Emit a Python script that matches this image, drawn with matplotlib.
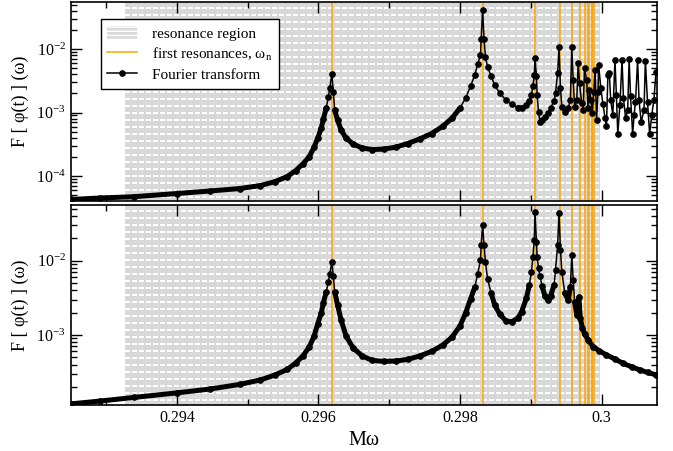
import matplotlib
matplotlib.use('Agg')
import matplotlib.pyplot as plt
import matplotlib.patches as mpatches
import numpy as np
from matplotlib.lines import Line2D
from matplotlib.ticker import FixedLocator, FuncFormatter, LogLocator

plt.rcParams['font.family'] = ['Liberation Serif', 'DejaVu Serif']
plt.rcParams['mathtext.fontset'] = 'custom'
plt.rcParams['mathtext.rm'] = 'Liberation Serif'
plt.rcParams['mathtext.it'] = 'Liberation Serif:italic'
plt.rcParams['hatch.linewidth'] = 1.0

# resonance region and first resonance frequencies
region = (0.29326, 0.29998)
omega_n = [0.29619, 0.29832, 0.29906, 0.29941, 0.29958, 0.29969,
           0.29976, 0.29981, 0.29983, 0.29986, 0.29987, 0.29989]

# Fourier transform, upper panel
w_top = [0.29250, 0.29292, 0.29339, 0.29400, 0.29447, 0.29489, 0.29518, 0.29539, 0.29556, 0.29568,
         0.29578, 0.29587, 0.29594, 0.29599, 0.29604, 0.29607, 0.29611, 0.29614, 0.29616, 0.29619,
         0.29621, 0.29623, 0.29627, 0.29632, 0.29639, 0.29649, 0.29662, 0.29676, 0.29693, 0.29710,
         0.29726, 0.29743, 0.29760, 0.29776, 0.29789, 0.29800, 0.29808, 0.29815, 0.29821, 0.29825,
         0.29829, 0.29830, 0.29832, 0.29834, 0.29836, 0.29839, 0.29844, 0.29849, 0.29856, 0.29865,
         0.29873, 0.29882, 0.29887, 0.29894, 0.29898, 0.29901, 0.29903, 0.29905, 0.29906, 0.29908,
         0.29909, 0.29911, 0.29913, 0.29916, 0.29920, 0.29924, 0.29928, 0.29933, 0.29935, 0.29938,
         0.29940, 0.29942, 0.29944, 0.29948, 0.29953, 0.29956, 0.29958, 0.29960, 0.29962, 0.29965,
         0.29967, 0.29969, 0.29972, 0.29974, 0.29976, 0.29979, 0.29981, 0.29983, 0.29985, 0.29987,
         0.29989, 0.29991, 0.29993, 0.29995, 0.29996, 0.29999, 0.30002, 0.30005, 0.30007, 0.30009,
         0.30011, 0.30013, 0.30016, 0.30019, 0.30021, 0.30023, 0.30026, 0.30029, 0.30031, 0.30034,
         0.30037, 0.30039, 0.30041, 0.30044, 0.30046, 0.30048, 0.30051, 0.30053, 0.30056, 0.30060,
         0.30062, 0.30065, 0.30068, 0.30071, 0.30074, 0.30077]
F_top = [4.27e-5, 4.51e-5, 4.72e-5, 5.30e-5, 5.81e-5, 6.35e-5, 7.08e-5, 8.18e-5, 9.82e-5, 1.22e-4,
         1.55e-4, 2.01e-4, 2.86e-4, 3.96e-4, 5.70e-4, 7.91e-4, 1.18e-3, 1.75e-3, 2.43e-3, 4.04e-3,
         2.10e-3, 1.09e-3, 7.62e-4, 5.30e-4, 3.96e-4, 3.19e-4, 2.76e-4, 2.61e-4, 2.66e-4, 2.86e-4,
         3.25e-4, 3.83e-4, 4.67e-4, 6.12e-4, 8.18e-4, 1.18e-3, 1.69e-3, 2.61e-3, 3.90e-3, 5.81e-3,
         8.05e-3, 1.46e-2, 4.19e-2, 1.46e-2, 7.49e-3, 5.21e-3, 3.76e-3, 2.71e-3, 2.03e-3, 1.57e-3,
         1.34e-3, 1.20e-3, 1.18e-3, 1.31e-3, 1.52e-3, 1.89e-3, 2.61e-3, 3.90e-3, 7.14e-3, 3.76e-3,
         1.89e-3, 1.02e-3, 7.08e-4, 7.62e-4, 8.65e-4, 9.82e-4, 1.18e-3, 1.52e-3, 2.03e-3, 4.19e-3,
         1.06e-2, 2.43e-3, 1.23e-3, 1.02e-3, 1.18e-3, 1.57e-3, 1.07e-2, 3.25e-3, 1.23e-3, 1.57e-3,
         6.02e-3, 2.92e-3, 1.41e-3, 1.09e-3, 5.02e-3, 3.25e-3, 1.18e-3, 2.26e-3, 1.57e-3, 9.82e-4,
         2.10e-3, 4.67e-3, 7.62e-4, 2.10e-3, 5.60e-3, 2.43e-3, 1.36e-3, 8.18e-4, 6.12e-4, 3.90e-3,
         4.19e-3, 1.57e-3, 9.14e-4, 6.72e-3, 1.89e-3, 4.58e-4, 1.31e-3, 6.72e-3, 1.69e-3, 8.18e-4,
         1.09e-3, 6.96e-3, 1.82e-3, 4.58e-4, 9.14e-4, 1.46e-3, 6.72e-3, 1.57e-3, 7.08e-4, 1.09e-3,
         6.47e-3, 1.46e-3, 4.58e-4, 9.14e-4, 1.57e-3, 4.34e-3]

# Fourier transform, lower panel
w_bot = [0.29250, 0.29292, 0.29339, 0.29400, 0.29447, 0.29489, 0.29518, 0.29539, 0.29556, 0.29568,
         0.29578, 0.29587, 0.29594, 0.29599, 0.29604, 0.29607, 0.29611, 0.29614, 0.29616, 0.29619,
         0.29621, 0.29623, 0.29627, 0.29632, 0.29639, 0.29649, 0.29662, 0.29676, 0.29693, 0.29710,
         0.29726, 0.29743, 0.29760, 0.29776, 0.29789, 0.29800, 0.29808, 0.29815, 0.29821, 0.29825,
         0.29829, 0.29830, 0.29832, 0.29834, 0.29836, 0.29839, 0.29844, 0.29849, 0.29856, 0.29865,
         0.29873, 0.29882, 0.29887, 0.29894, 0.29898, 0.29901, 0.29903, 0.29905, 0.29906, 0.29908,
         0.29909, 0.29911, 0.29913, 0.29916, 0.29920, 0.29924, 0.29928, 0.29933, 0.29935, 0.29938,
         0.29940, 0.29942, 0.29944, 0.29948, 0.29953, 0.29956, 0.29958, 0.29960, 0.29962, 0.29965,
         0.29968, 0.29970, 0.29973, 0.29976, 0.29981, 0.29988, 0.29997, 0.30007, 0.30019, 0.30030,
         0.30043, 0.30054, 0.30065, 0.30077]
F_bot = [1.18e-4, 1.29e-4, 1.44e-4, 1.66e-4, 1.87e-4, 2.16e-4, 2.48e-4, 2.90e-4, 3.44e-4, 4.20e-4,
         5.21e-4, 6.89e-4, 9.70e-4, 1.41e-3, 1.98e-3, 2.70e-3, 3.79e-3, 5.16e-3, 6.62e-3, 9.61e-3,
         6.22e-3, 3.79e-3, 2.54e-3, 1.59e-3, 9.70e-4, 6.68e-4, 5.21e-4, 4.54e-4, 4.40e-4, 4.47e-4,
         4.68e-4, 5.21e-4, 6.00e-4, 7.33e-4, 9.40e-4, 1.32e-3, 1.98e-3, 3.05e-3, 4.43e-3, 6.62e-3,
         1.02e-2, 1.63e-2, 3.02e-2, 1.63e-2, 9.61e-3, 5.68e-3, 3.67e-3, 2.54e-3, 1.92e-3, 1.54e-3,
         1.50e-3, 1.69e-3, 2.04e-3, 3.15e-3, 4.71e-3, 7.05e-3, 1.12e-2, 1.90e-2, 4.52e-2, 1.79e-2,
         1.12e-2, 7.98e-3, 6.22e-3, 4.56e-3, 3.35e-3, 2.96e-3, 3.35e-3, 4.71e-3, 7.50e-3, 1.63e-2,
         4.36e-2, 1.39e-2, 7.05e-3, 3.67e-3, 2.96e-3, 4.43e-3, 1.19e-2, 5.50e-3, 2.78e-3, 1.86e-3,
         3.24e-3, 1.69e-3, 1.24e-3, 1.03e-3, 8.57e-4, 6.97e-4, 6.09e-4, 5.38e-4, 4.75e-4, 4.16e-4,
         3.71e-4, 3.38e-4, 3.13e-4, 2.90e-4]

xticks = [0.294, 0.296, 0.298, 0.3]
xminor = [0.293, 0.295, 0.297, 0.299]
ylabel = 'F [ φ(t) ] (ω)'

fig = plt.figure(figsize=(6.73, 4.51), dpi=100)
ax_top = fig.add_axes([0.1051, 0.5543, 0.8707, 0.4412])
ax_bot = fig.add_axes([0.1051, 0.1020, 0.8707, 0.4435])

# (axes, data, y limits, where the dense band ends, band height limit)
panels = [(ax_top, w_top, F_top, (4.04e-5, 0.055), 0.29912, 1.2e-3),
          (ax_bot, w_bot, F_bot, (1.14e-4, 0.0562), 1.0, 5e-3)]

for ax, w, F, ylim, band_end, band_max in panels:
    w = np.array(w)
    F = np.array(F)
    for wn in omega_n:
        ax.axvline(wn, color='#ffa500', lw=1.1, zorder=1)
    # dense sampling shows as a solid band where the curve is smooth
    band = np.where((w <= band_end) & (F <= band_max), F, np.nan)
    ax.plot(w, band, color='black', lw=3.6, solid_capstyle='round', zorder=2)
    ax.plot(w, F, color='black', lw=1.1, marker='o', ms=3.8, zorder=3)

    ax.set_yscale('log')
    ax.set_xlim(0.2925, 0.30078)
    ax.set_ylim(*ylim)
    ax.set_facecolor('none')
    ax.xaxis.set_major_locator(FixedLocator(xticks))
    ax.xaxis.set_minor_locator(FixedLocator(xminor))
    ax.xaxis.set_major_formatter(FuncFormatter(lambda v, p: '%g' % v))
    ax.yaxis.set_minor_locator(LogLocator(base=10, subs=np.arange(2, 10)))
    ax.tick_params(which='both', direction='in', top=True, right=True, width=1.0, labelsize=11.5)
    ax.tick_params(which='major', length=8)
    ax.tick_params(which='minor', length=4)
    for s in ax.spines.values():
        s.set_linewidth(1.2)
    ax.set_ylabel(ylabel, fontsize=13, labelpad=5)

    # resonance region: gray fill with a grid of short white dashes, drawn behind the axes
    x0 = int(round(ax.transData.transform((region[0], ylim[0]))[0]))
    x1 = int(round(ax.transData.transform((region[1], ylim[0]))[0]))
    y0 = int(round(ax.bbox.y0))
    y1 = int(round(ax.bbox.y1))
    tile = np.full((y1 - y0, x1 - x0, 3), 0.85)
    rows = (np.arange(y1 - y0) % 7) >= 5
    cols = (np.arange(x1 - x0) % 7) < 5
    tile[np.ix_(rows, cols)] = 1.0
    fig.figimage(tile, xo=x0, yo=y0, origin='upper', zorder=-1)

ax_top.tick_params(labelbottom=False)
ax_bot.set_xlabel('Mω', fontsize=14.5, labelpad=4)

handles = [mpatches.Patch(facecolor='#d9d9d9', edgecolor='white', hatch='----', lw=0),
           Line2D([], [], color='#ffa500', lw=1.1),
           Line2D([], [], color='black', lw=1.1, marker='o', ms=3.8)]
labels = ['resonance region', r'first resonances, ω$_{\mathrm{n}}$', 'Fourier transform']
leg = ax_top.legend(handles, labels, loc='upper left', bbox_to_anchor=(0.051, 0.915),
                    borderaxespad=0, fancybox=False, edgecolor='black', framealpha=1,
                    fontsize=11, handlelength=1.9, handleheight=1.0, handletextpad=1.0,
                    labelspacing=0.3, borderpad=0.45)
leg.get_frame().set_linewidth(1.0)

fig.savefig('out.png', dpi=100)
